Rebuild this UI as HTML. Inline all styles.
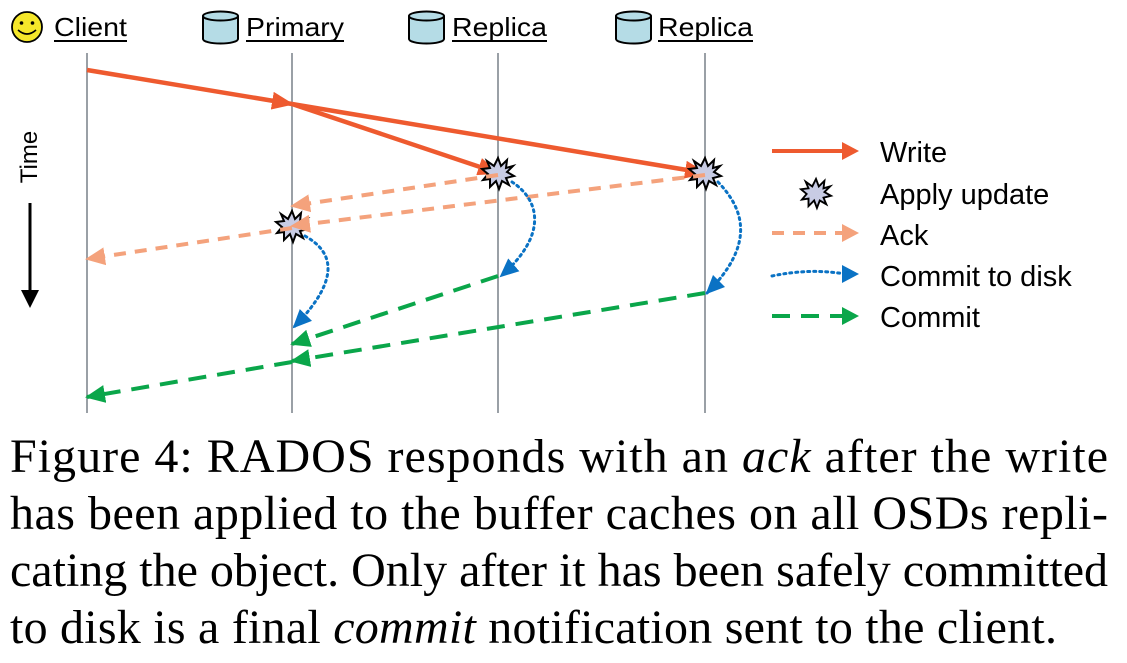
<!DOCTYPE html>
<html><head><meta charset="utf-8"><style>
html,body{margin:0;padding:0;background:#fff;}
svg{display:block;}
</style></head><body>
<svg width="1127" height="663" viewBox="0 0 1127 663" xmlns="http://www.w3.org/2000/svg">
<defs>
<marker id="mw" markerWidth="22" markerHeight="18" refX="20" refY="9" orient="auto" markerUnits="userSpaceOnUse" viewBox="0 0 22 18"><path d="M0,0 L22,9 L0,18z" fill="#ee5a2f"/></marker>
<marker id="ma" markerWidth="20" markerHeight="18" refX="18" refY="9" orient="auto" markerUnits="userSpaceOnUse" viewBox="0 0 20 18"><path d="M0,0 L20,9 L0,18z" fill="#f4a27c"/></marker>
<marker id="mb" markerWidth="19" markerHeight="17" refX="17" refY="8.5" orient="auto" markerUnits="userSpaceOnUse" viewBox="0 0 19 17"><path d="M0,0 L19,8.5 L0,17z" fill="#0a72c4"/></marker>
<marker id="mg" markerWidth="20" markerHeight="18" refX="18" refY="9" orient="auto" markerUnits="userSpaceOnUse" viewBox="0 0 20 18"><path d="M0,0 L20,9 L0,18z" fill="#0aa64a"/></marker>
<symbol id="star" viewBox="-16 -16 32 32" overflow="visible">
<polygon points="0,-15 3,-7 9,-13 8,-5 15,-7 9,-1 16,3 8,5 11,12 4,8 1,16 -2,8 -8,14 -8,6 -15,7 -10,1 -16,-4 -8,-5 -11,-12 -4,-7" fill="#c8cce4" stroke="#000" stroke-width="2"/>
</symbol>
</defs>
<g font-family="Liberation Sans, sans-serif" font-size="26" fill="#000">
<circle cx="27" cy="27" r="15" fill="#f5e72a" stroke="#000" stroke-width="1.8"/>
<circle cx="21.5" cy="23" r="1.8"/><circle cx="32.5" cy="23" r="1.8"/>
<path d="M18,30 Q27,38 36,30" fill="none" stroke="#000" stroke-width="1.6"/>
<g fill="#b5dce6" stroke="#000" stroke-width="2">
<path d="M203,16 v23 a17.5,4.5 0 0 0 35,0 v-23"/><ellipse cx="220.5" cy="16" rx="17.5" ry="4.5"/>
<path d="M409,16 v23 a17.5,4.5 0 0 0 35,0 v-23"/><ellipse cx="426.5" cy="16" rx="17.5" ry="4.5"/>
<path d="M616,16 v23 a17.5,4.5 0 0 0 35,0 v-23"/><ellipse cx="633.5" cy="16" rx="17.5" ry="4.5"/>
</g>
<text x="54" y="36" textLength="73" lengthAdjust="spacingAndGlyphs">Client</text><line x1="54" y1="41" x2="127" y2="41" stroke="#000" stroke-width="2"/>
<text x="246" y="36" textLength="98" lengthAdjust="spacingAndGlyphs">Primary</text><line x1="246" y1="41" x2="344" y2="41" stroke="#000" stroke-width="2"/>
<text x="452" y="36" textLength="95" lengthAdjust="spacingAndGlyphs">Replica</text><line x1="452" y1="41" x2="547" y2="41" stroke="#000" stroke-width="2"/>
<text x="658" y="36" textLength="95" lengthAdjust="spacingAndGlyphs">Replica</text><line x1="658" y1="41" x2="753" y2="41" stroke="#000" stroke-width="2"/>
</g>
<g stroke="#9aa0a6" stroke-width="2">
<line x1="87" y1="53" x2="87" y2="413"/><line x1="292" y1="53" x2="292" y2="413"/>
<line x1="498" y1="53" x2="498" y2="413"/><line x1="705" y1="53" x2="705" y2="413"/>
</g>
<g stroke="#ee5a2f" stroke-width="4.5" fill="none">
<line x1="87" y1="70" x2="292" y2="104" marker-end="url(#mw)"/>
<line x1="292" y1="104" x2="498" y2="173" marker-end="url(#mw)"/>
<line x1="292" y1="104" x2="705" y2="173" marker-end="url(#mw)"/>
</g>
<use href="#star" x="482" y="157" width="32" height="32"/>
<use href="#star" x="689" y="157" width="32" height="32"/>
<use href="#star" x="276" y="210" width="32" height="32"/>
<g stroke="#f4a27c" stroke-width="4" fill="none" stroke-dasharray="12,9">
<line x1="498" y1="175" x2="292" y2="206" marker-end="url(#ma)"/>
<line x1="705" y1="175" x2="292" y2="226" marker-end="url(#ma)"/>
<line x1="292" y1="228" x2="87" y2="259" marker-end="url(#ma)"/>
</g>
<g stroke="#0a72c4" stroke-width="3" fill="none" stroke-dasharray="2,4" stroke-linecap="round">
<path d="M305,236 C330,250 345,275 294,327" marker-end="url(#mb)"/>
<path d="M512,182 C540,200 548,235 501,276" marker-end="url(#mb)"/>
<path d="M718,182 C745,210 755,245 707,293" marker-end="url(#mb)"/>
</g>
<g stroke="#0aa64a" stroke-width="4" fill="none" stroke-dasharray="18,11">
<line x1="498" y1="276" x2="292" y2="344" marker-end="url(#mg)"/>
<line x1="705" y1="293" x2="292" y2="361" marker-end="url(#mg)"/>
<line x1="292" y1="362" x2="87" y2="397" marker-end="url(#mg)"/>
</g>
<text transform="translate(37,157) rotate(-90)" text-anchor="middle" font-family="Liberation Sans, sans-serif" font-size="24">Time</text>
<line x1="30" y1="203" x2="30" y2="292" stroke="#000" stroke-width="3"/>
<path d="M21,290 L39,290 L30,308z" fill="#000"/>
<g stroke-width="4" fill="none">
<line x1="772" y1="151" x2="845" y2="151" stroke="#ee5a2f"/>
<line x1="772" y1="233" x2="845" y2="233" stroke="#f4a27c" stroke-dasharray="12,9"/>
<path d="M772,276 Q810,268 845,274" stroke="#0a72c4" stroke-width="3" stroke-dasharray="2,4" stroke-linecap="round"/>
<line x1="772" y1="316" x2="845" y2="316" stroke="#0aa64a" stroke-dasharray="18,11"/>
</g>
<path d="M842,142 L859,151 L842,160z" fill="#ee5a2f"/>
<path d="M842,224 L859,233 L842,242z" fill="#f4a27c"/>
<path d="M842,265 L859,274 L842,283z" fill="#0a72c4"/>
<path d="M842,307 L859,316 L842,325z" fill="#0aa64a"/>
<use href="#star" x="801" y="178" width="30" height="30"/>
<g font-family="Liberation Sans, sans-serif" font-size="29" fill="#000">
<text x="880" y="162">Write</text>
<text x="880" y="204">Apply update</text>
<text x="880" y="245">Ack</text>
<text x="880" y="286">Commit to disk</text>
<text x="880" y="327">Commit</text>
</g>
<g font-family="Liberation Serif, serif" font-size="48" fill="#000">
<text x="10" y="472" textLength="1098" lengthAdjust="spacing">Figure 4: RADOS responds with an <tspan font-style="italic">ack</tspan> after the write</text>
<text x="10" y="529" textLength="1098" lengthAdjust="spacing">has been applied to the buffer caches on all OSDs repli-</text>
<text x="10" y="586" textLength="1098" lengthAdjust="spacing">cating the object. Only after it has been safely committed</text>
<text x="10" y="643" textLength="1047" lengthAdjust="spacing">to disk is a final <tspan font-style="italic">commit</tspan> notification sent to the client.</text>
</g>
</svg>
</body></html>
